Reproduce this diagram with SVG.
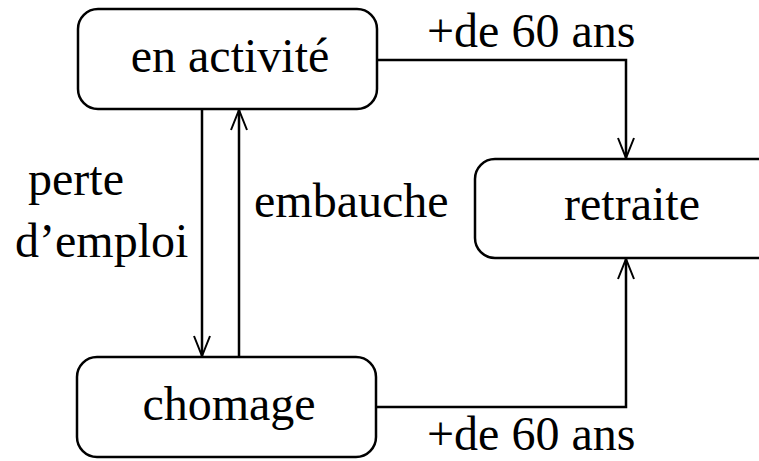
<svg xmlns="http://www.w3.org/2000/svg" width="759" height="461" viewBox="0 0 759 461">
<defs>
<marker id="arr" viewBox="0 0 22 20" refX="21" refY="10" markerWidth="22" markerHeight="20" markerUnits="userSpaceOnUse" orient="auto">
<path d="M1,2 L21,10 L1,18" fill="none" stroke="#000" stroke-width="2"/>
</marker>
<style>
.box{fill:#fff;stroke:#000;stroke-width:2.5}
.lbl{font-family:"Liberation Serif","Times New Roman",serif;font-size:48px;fill:#000}
.edge{fill:none;stroke:#000;stroke-width:2.5}
</style>
</defs>
<rect width="759" height="461" fill="#fff"/>
<g id="connectors">
<path class="edge" d="M377,60 H626 V158" marker-end="url(#arr)"/>
<path class="edge" d="M376,407 H626 V259" marker-end="url(#arr)"/>
<path class="edge" d="M202,110 V356" marker-end="url(#arr)"/>
<path class="edge" d="M239,356 V110" marker-end="url(#arr)"/>
<text class="lbl" x="427" y="47">+de 60 ans</text>
<text class="lbl" x="427" y="450">+de 60 ans</text>
<text class="lbl" x="28" y="195">perte</text>
<text class="lbl" x="15" y="257">d’emploi</text>
<text class="lbl" x="254" y="217">embauche</text>
</g>
<g id="en-activite">
<rect class="box" x="78" y="9" width="299" height="100" rx="20"/>
<text class="lbl" x="230" y="72" text-anchor="middle">en activité</text>
</g>
<g id="retraite">
<rect class="box" x="475" y="159" width="305" height="99" rx="20"/>
<text class="lbl" x="632" y="220" text-anchor="middle">retraite</text>
</g>
<g id="chomage">
<rect class="box" x="77" y="357" width="299" height="100" rx="20"/>
<text class="lbl" x="229" y="420" text-anchor="middle">chomage</text>
</g>
</svg>
